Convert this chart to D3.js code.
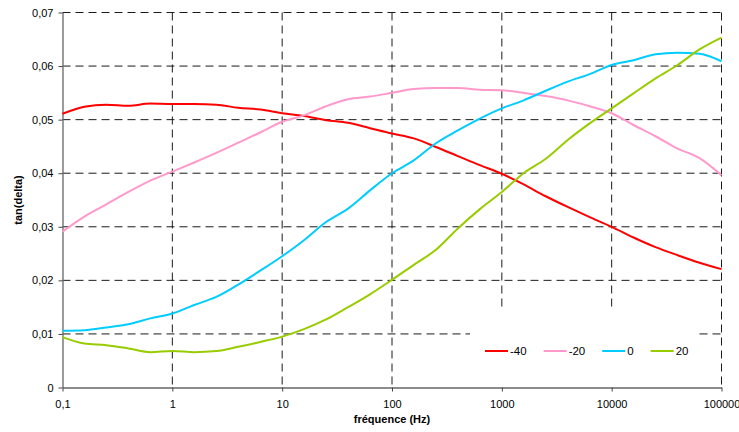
<!DOCTYPE html>
<html>
<head>
<meta charset="utf-8">
<script src="https://cdn.jsdelivr.net/npm/d3@7"></script>
<style>
  html, body { margin: 0; padding: 0; background: #fff; }
  svg { display: block; }
  text { font-family: "Liberation Sans", Arial, sans-serif; fill: #000; }
</style>
</head>
<body>
<svg id="chart" width="739" height="432"></svg>
<script>
// ---- data ----
const freqs = [0.1, 0.158, 0.251, 0.398, 0.631, 1, 1.58, 2.51, 3.98, 6.31,
  10, 15.8, 25.1, 39.8, 63.1, 100, 158, 251, 398, 631,
  1000, 1580, 2510, 3980, 6310, 10000, 15800, 25100, 39800, 63100, 100000];

const seriesNames = ["-40", "-20", "0", "20"];
const seriesColors = ["#FF0000", "#FF99CC", "#00CCFF", "#99CC00"];

const valsM40 = [0.0511, 0.0524, 0.0528, 0.0526, 0.0530, 0.0529, 0.0529, 0.0528, 0.0522, 0.0519,
  0.0512, 0.0507, 0.0499, 0.0494, 0.0484, 0.0474, 0.0465, 0.0449, 0.0432, 0.0415,
  0.0399, 0.0379, 0.0357, 0.0337, 0.0318, 0.0300, 0.0280, 0.0262, 0.0247, 0.0233, 0.0221];
const valsM20 = [0.0291, 0.0319, 0.0342, 0.0365, 0.0386, 0.0403, 0.0420, 0.0438, 0.0457, 0.0476,
  0.0496, 0.0508, 0.0525, 0.0538, 0.0543, 0.0550, 0.0557, 0.0559, 0.0559, 0.0556,
  0.0555, 0.0550, 0.0544, 0.0536, 0.0525, 0.0512, 0.0490, 0.0469, 0.0446, 0.0428, 0.0396];
const vals0 = [0.0106, 0.0107, 0.0112, 0.0118, 0.0129, 0.0138, 0.0154, 0.0169, 0.0192, 0.0218,
  0.0245, 0.0275, 0.0309, 0.0334, 0.0368, 0.0400, 0.0424, 0.0456, 0.0480, 0.0502,
  0.0521, 0.0536, 0.0554, 0.0571, 0.0585, 0.0602, 0.0611, 0.0622, 0.0625, 0.0623, 0.0609];
const vals20 = [0.0094, 0.0082, 0.0079, 0.0073, 0.0066, 0.0068, 0.0066, 0.0068, 0.0076, 0.0085,
  0.0095, 0.0109, 0.0127, 0.0150, 0.0174, 0.0201, 0.0229, 0.0257, 0.0297, 0.0333,
  0.0365, 0.0400, 0.0427, 0.0462, 0.0493, 0.0521, 0.0549, 0.0577, 0.0602, 0.0631, 0.0653];

const xTickValues = [0.1, 1, 10, 100, 1000, 10000, 100000];
const xTickLabels = ["0,1", "1", "10", "100", "1000", "10000", "100000"];
const yTickValues = [0, 0.01, 0.02, 0.03, 0.04, 0.05, 0.06, 0.07];
const yTickLabels = ["0", "0,01", "0,02", "0,03", "0,04", "0,05", "0,06", "0,07"];

const xTitle = "fréquence (Hz)";
const yTitle = "tan(delta)";

// ---- layout ----
const svg = d3.select("#chart");
const plotL = 62.5, plotR = 721.5, plotT = 12.5, plotB = 387.5;

const x = d3.scaleLog().domain([0.1, 100000]).range([plotL, plotR]);
const y = d3.scaleLinear().domain([0, 0.07]).range([plotB, plotT]);

const series = [valsM40, valsM20, vals0, vals20].map((vals, i) => ({
  name: seriesNames[i],
  color: seriesColors[i],
  points: freqs.map((f, j) => ({ f, v: vals[j] }))
}));

// grid lines
const grid = svg.append("g").attr("stroke", "#1a1a1a").attr("stroke-width", 1)
  .attr("stroke-dasharray", "8,5").attr("fill", "none");
grid.selectAll("line.h").data(yTickValues.filter(v => v > 0)).enter().append("line")
  .attr("class", "h")
  .attr("x1", plotL).attr("x2", plotR)
  .attr("y1", d => y(d)).attr("y2", d => y(d));
grid.selectAll("line.v").data(xTickValues.filter(v => v > 0.1)).enter().append("line")
  .attr("class", "v")
  .attr("x1", d => x(d)).attr("x2", d => x(d))
  .attr("y1", plotT).attr("y2", plotB);

// axes
const xAxis = d3.axisBottom(x).tickValues(xTickValues)
  .tickFormat((d, i) => xTickLabels[i]).tickSize(4).tickSizeOuter(0).tickPadding(9);
const yAxis = d3.axisLeft(y).tickValues(yTickValues)
  .tickFormat((d, i) => yTickLabels[i]).tickSize(4).tickSizeOuter(0).tickPadding(5);

const gx = svg.append("g").attr("transform", `translate(0,${plotB})`).call(xAxis);
const gy = svg.append("g").attr("transform", `translate(${plotL},0)`).call(yAxis);
[gx, gy].forEach(g => {
  g.select(".domain").attr("stroke", "#666").attr("stroke-width", 1.3);
  g.selectAll(".tick line").attr("stroke", "#444");
  g.selectAll(".tick text").attr("font-size", 11)
    .attr("font-family", '"Liberation Sans", Arial, sans-serif').attr("fill", "#000");
});

// lines
const line = d3.line().x(d => x(d.f)).y(d => y(d.v)).curve(d3.curveMonotoneX);
svg.append("g").selectAll("path").data(series).enter().append("path")
  .attr("d", d => line(d.points))
  .attr("fill", "none")
  .attr("stroke", d => d.color)
  .attr("stroke-width", 2)
  .attr("stroke-linejoin", "round");

// legend
const legend = svg.append("g");
legend.append("rect").attr("x", 470).attr("y", 311).attr("width", 227).attr("height", 75.5)
  .attr("fill", "#fff");
let lx = 485;
const ly = 351;
series.forEach(s => {
  legend.append("line").attr("x1", lx).attr("x2", lx + 23).attr("y1", ly).attr("y2", ly)
    .attr("stroke", s.color).attr("stroke-width", 2);
  const t = legend.append("text").attr("x", lx + 25).attr("y", ly).attr("dy", "0.35em")
    .attr("font-size", 11.5).text(s.name);
  lx = lx + 25 + t.node().getComputedTextLength() + 17;
});

// titles
svg.append("text").attr("x", (plotL + plotR) / 2).attr("y", 423)
  .attr("text-anchor", "middle").attr("font-size", 11).attr("font-weight", "bold")
  .text(xTitle);
svg.append("text").attr("transform", `translate(22,${(plotT + plotB) / 2}) rotate(-90)`)
  .attr("text-anchor", "middle").attr("font-size", 11).attr("font-weight", "bold")
  .text(yTitle);
</script>
</body>
</html>
